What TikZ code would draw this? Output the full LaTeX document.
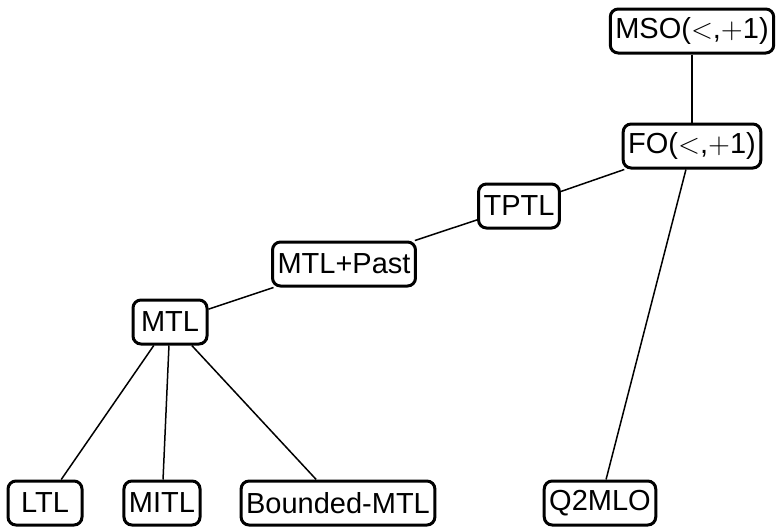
\documentclass[tikz,border=0pt]{standalone}
\usepackage{fontspec}
\setmainfont{Liberation Sans}
\usetikzlibrary{positioning}
\tikzset{
    logic/.style={
        rectangle,
        rounded corners=4pt,
        draw=black,
        line width=1.5pt,
        fill=white,
        minimum width=37pt,
        minimum height=22pt,
        inner xsep=2.5pt,
        inner ysep=2pt,
        align=center,
        font=\fontsize{14.5}{17}\selectfont
    },
    link/.style={
        line width=0.75pt,
        draw=black
    }
}
\begin{document}
\begin{tikzpicture}[x=0.5pt, y=-0.5pt]

\useasboundingbox (0,0) rectangle (777,526);

% === LOGICS ===

% Top of the right branch
\node[logic] (mso) at (692, 31) {MSO($<$,$+$1)};
\node[logic] (fo) at (692, 146) {FO($<$,$+$1)};

% Timed logics chain
\node[logic] (tptl) at (519, 206) {TPTL};
\node[logic] (mtlpast) at (344, 264) {MTL+Past};
\node[logic] (mtl) at (170, 322) {MTL};

% Bottom row
\node[logic] (ltl) at (45, 503) {LTL};
\node[logic] (mitl) at (162, 503) {MITL};
\node[logic] (bmtl) at (338, 503) {Bounded-MTL};
\node[logic] (qmlo) at (600, 503) {Q2MLO};

% === CONNECTIONS ===

\draw[link] (mso) -- (fo);
\draw[link] (fo) -- (tptl);
\draw[link] (tptl) -- (mtlpast);
\draw[link] (mtlpast) -- (mtl);
\draw[link] (mtl) -- (ltl);
\draw[link] (mtl) -- (mitl);
\draw[link] (mtl) -- (bmtl);
\draw[link] (fo) -- (qmlo);

\end{tikzpicture}
\end{document}
